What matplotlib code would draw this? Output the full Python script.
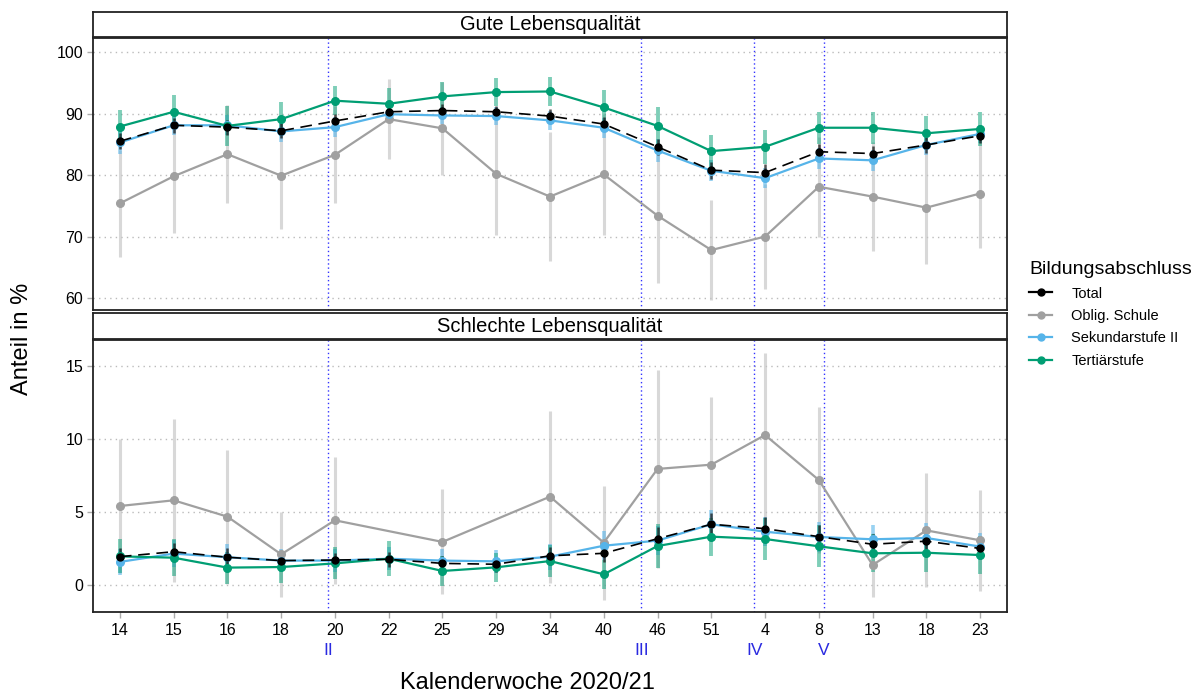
import matplotlib
matplotlib.use("Agg")
import matplotlib.pyplot as plt
import numpy as np
from matplotlib.lines import Line2D

plt.rcParams['font.family'] = ['Liberation Sans', 'DejaVu Sans']

weeks = ["14", "15", "16", "18", "20", "22", "25", "29", "34", "40", "46", "51", "4", "8", "13", "18", "23"]
series_names = ["Total", "Oblig. Schule", "Sekundarstufe II", "Tertiärstufe"]

# Gute Lebensqualität (%)
gut_total = [85.5, 88.1, 87.8, 87.2, 88.8, 90.3, 90.5, 90.3, 89.6, 88.3, 84.6, 80.8, 80.4, 83.8, 83.5, 84.9, 86.4]
gut_oblig = [75.4, 79.8, 83.4, 79.9, 83.3, 89.1, 87.6, 80.2, 76.5, 80.1, 73.4, 67.8, 70.0, 78.1, 76.5, 74.7, 77.0]
gut_sek = [85.3, 88.1, 88.1, 87.1, 87.8, 89.9, 89.7, 89.6, 88.9, 87.7, 84.0, 80.7, 79.5, 82.7, 82.4, 84.9, 86.7]
gut_tert = [87.9, 90.3, 88.0, 89.1, 92.1, 91.6, 92.8, 93.5, 93.6, 91.0, 88.0, 83.9, 84.6, 87.7, 87.7, 86.8, 87.5]
gut_total_err = [1.3, 1.2, 1.2, 1.2, 1.1, 1.0, 1.0, 1.0, 1.1, 1.1, 1.3, 1.4, 1.4, 1.3, 1.3, 1.3, 1.2]
gut_oblig_err = [8.7, 9.3, 8.0, 8.6, 7.9, 6.5, 7.6, 9.9, 10.5, 9.8, 10.9, 8.1, 8.5, 8.1, 8.8, 9.1, 8.8]
gut_sek_err = [1.8, 1.6, 1.6, 1.7, 1.6, 1.4, 1.4, 1.4, 1.5, 1.6, 1.8, 1.7, 1.6, 1.7, 1.7, 1.6, 1.5]
gut_tert_err = [2.7, 2.7, 3.3, 2.8, 2.4, 2.6, 2.4, 2.3, 2.3, 2.9, 3.0, 2.6, 2.8, 2.6, 2.6, 2.8, 2.8]

# Schlechte Lebensqualität (%), None = no value
sch_total = [1.94, 2.28, 1.90, 1.67, 1.71, 1.76, 1.48, 1.42, 2.0, 2.17, 3.17, 4.16, 3.86, 3.31, 2.79, 3.0, 2.5]
sch_oblig = [5.41, 5.80, 4.68, 2.10, 4.43, None, 2.95, None, 6.05, 2.90, 7.95, 8.24, 10.27, 7.19, 1.37, 3.74, 3.06]
sch_sek = [1.58, 2.15, 1.90, 1.67, 1.67, 1.80, 1.67, 1.62, 1.94, 2.69, 3.04, 4.16, 3.65, 3.29, 3.13, 3.22, 2.63]
sch_tert = [1.96, 1.87, 1.19, 1.23, 1.48, 1.80, 0.96, 1.21, 1.64, 0.73, 2.67, 3.31, 3.15, 2.65, 2.17, 2.21, 2.05]
sch_total_err = [0.6, 0.6, 0.6, 0.5, 0.5, 0.5, 0.5, 0.5, 0.6, 0.6, 0.8, 0.8, 0.8, 0.8, 0.7, 0.7, 0.7]
sch_oblig_err = [4.6, 5.6, 4.6, 2.9, 4.35, None, 3.6, None, 5.9, 3.9, 6.8, 4.66, 5.65, 5.0, 2.2, 3.9, 3.45]
sch_sek_err = [0.9, 0.9, 0.9, 0.8, 0.8, 0.8, 0.8, 0.8, 0.9, 1.0, 1.0, 0.95, 1.0, 1.0, 1.0, 1.0, 0.9]
sch_tert_err = [1.17, 1.26, 1.1, 1.1, 1.1, 1.2, 1.0, 1.0, 1.1, 1.0, 1.5, 1.3, 1.45, 1.45, 1.3, 1.3, 1.3]

# Phase markers (position between weeks, in category units) and labels
phase_pos = [3.88, 9.70, 11.80, 13.09]
phase_labels = ["II", "III", "IV", "V"]

colors = {"Total": "black", "Oblig. Schule": "#a0a0a0", "Sekundarstufe II": "#56B4E9", "Tertiärstufe": "#009E73"}
err_colors = {"Total": "#1a1a1a", "Oblig. Schule": "#c4c4c4", "Sekundarstufe II": "#56B4E9", "Tertiärstufe": "#009E73"}
err_alpha = {"Total": 0.75, "Oblig. Schule": 0.65, "Sekundarstufe II": 0.6, "Tertiärstufe": 0.5}
err_width = {"Total": 1.8, "Oblig. Schule": 2.2, "Sekundarstufe II": 2.6, "Tertiärstufe": 2.8}

fig = plt.figure(figsize=(11.95, 6.93), dpi=100)
W, H = 1195, 693

def fr(x0, y0, x1, y1):
    return [x0 / W, 1 - y1 / H, (x1 - x0) / W, (y1 - y0) / H]

ax_top = fig.add_axes(fr(93, 38, 1007, 310))
ax_bot = fig.add_axes(fr(93, 340, 1007, 612))
strip_top = fig.add_axes(fr(93, 12, 1007, 37))
strip_bot = fig.add_axes(fr(93, 313, 1007, 339))

for s, title in [(strip_top, "Gute Lebensqualität"), (strip_bot, "Schlechte Lebensqualität")]:
    s.set_xticks([]); s.set_yticks([])
    for sp in s.spines.values():
        sp.set_linewidth(1.3); sp.set_color("#222222")
    s.text(0.5, 0.5, title, ha="center", va="center", fontsize=14.5, transform=s.transAxes)

x = np.arange(len(weeks))

def draw(ax, data):
    for name, vals, errs in data:
        idx = [i for i, v in enumerate(vals) if v is not None]
        xv = np.array(idx)
        yv = np.array([vals[i] for i in idx])
        ev = np.array([errs[i] for i in idx])
        ax.vlines(xv, yv - ev, yv + ev, colors=err_colors[name], alpha=err_alpha[name],
                  linewidth=err_width[name], zorder=2)
    zorders = {"Oblig. Schule": 3, "Sekundarstufe II": 4, "Tertiärstufe": 5, "Total": 6}
    for name, vals, errs in data:
        idx = [i for i, v in enumerate(vals) if v is not None]
        xv = np.array(idx)
        yv = np.array([vals[i] for i in idx])
        if name == "Total":
            ax.plot(xv, yv, color=colors[name], linewidth=1.2, dashes=(7, 4), marker="o", markersize=5, zorder=zorders[name])
        else:
            ax.plot(xv, yv, color=colors[name], linewidth=1.6, marker="o", markersize=5.5, zorder=zorders[name])

draw(ax_top, [("Oblig. Schule", gut_oblig, gut_oblig_err), ("Sekundarstufe II", gut_sek, gut_sek_err),
              ("Tertiärstufe", gut_tert, gut_tert_err), ("Total", gut_total, gut_total_err)])
draw(ax_bot, [("Oblig. Schule", sch_oblig, sch_oblig_err), ("Sekundarstufe II", sch_sek, sch_sek_err),
              ("Tertiärstufe", sch_tert, sch_tert_err), ("Total", sch_total, sch_total_err)])

ax_top.set_ylim(58.05, 102.3)
ax_top.set_yticks([60, 70, 80, 90, 100])
ax_bot.set_ylim(-1.85, 16.78)
ax_bot.set_yticks([0, 5, 10, 15])

for ax in (ax_top, ax_bot):
    ax.set_xlim(-0.5, 16.5)
    ax.yaxis.grid(True, linestyle=(0, (1, 3)), color="#bbbbbb", linewidth=1)
    ax.set_axisbelow(True)
    for p in phase_pos:
        ax.axvline(p, color="#3333ff", linestyle=(0, (1, 2)), linewidth=1, zorder=1)
    for sp in ax.spines.values():
        sp.set_linewidth(1.3); sp.set_color("#222222")
    ax.tick_params(axis="y", labelsize=11.5, length=4, width=1, color="#aaaaaa", pad=3)

ax_top.set_xticks(x)
ax_top.tick_params(axis="x", bottom=False, labelbottom=False)
ax_bot.set_xticks(x)
ax_bot.set_xticklabels(weeks)
ax_bot.tick_params(axis="x", labelsize=11.5, length=4, width=1, color="#aaaaaa", pad=4)

for p, lab in zip(phase_pos, phase_labels):
    ax_bot.text(p, -0.14, lab, color="#2a2ae0", fontsize=12.5, ha="center", va="center",
                transform=ax_bot.get_xaxis_transform())

fig.text(527 / W, 1 - 683 / H, "Kalenderwoche 2020/21", ha="center", va="center", fontsize=17)
fig.text(22 / W, 1 - 339 / H, "Anteil in %", rotation=90, ha="center", va="center", fontsize=17)

# Legend
handles = []
for name in series_names:
    handles.append(Line2D([0], [0], color=colors[name], marker="o", markersize=5, linewidth=1.6))
leg = fig.legend(handles, series_names, title="Bildungsabschluss", loc="upper left",
                 bbox_to_anchor=(1016 / W, 1 - 248 / H), frameon=False, fontsize=10.5,
                 title_fontsize=14, handlelength=1.6, labelspacing=0.58, handletextpad=1.3)
leg._legend_box.align = "left"

fig.savefig("out.png", dpi=100)
